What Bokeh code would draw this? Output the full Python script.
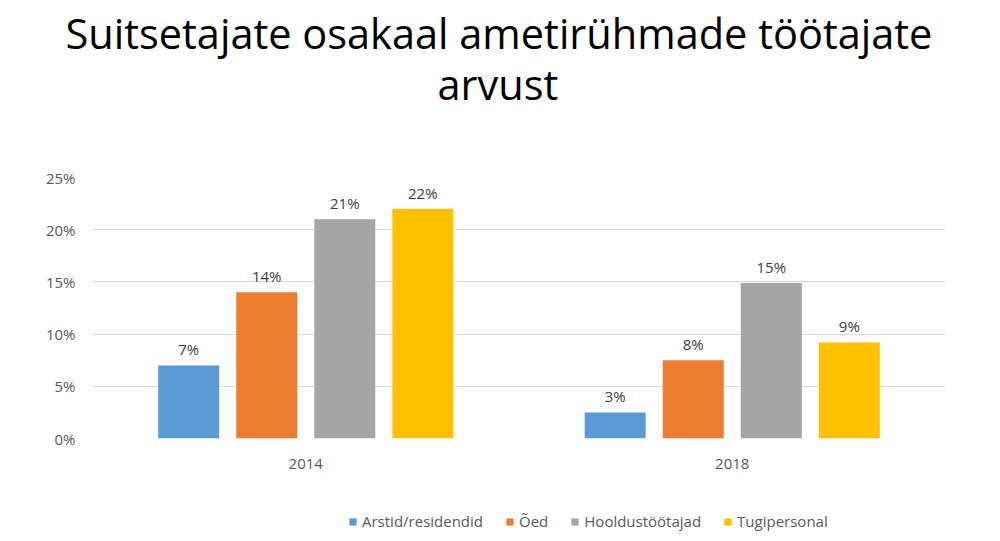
from bokeh.plotting import figure
from bokeh.models import (ColumnDataSource, Range1d, FixedTicker, NumeralTickFormatter,
                          Legend, LegendItem, LabelSet, Title)
from bokeh.layouts import column
from bokeh.core.properties import value
from bokeh.embed import file_html
from bokeh.resources import INLINE
import math

years = ["2014", "2018"]
series = ["Arstid/residendid", "Õed", "Hooldustöötajad", "Tugipersonal"]
colors = ["#5B9BD5", "#ED7D31", "#A5A5A5", "#FFC000"]
values = {
    "Arstid/residendid": [7.0, 2.5],
    "Õed": [14.0, 7.5],
    "Hooldustöötajad": [21.0, 14.9],
    "Tugipersonal": [22.0, 9.2],
}
y_ticks = [0, 5, 10, 15, 20, 25]
title_lines = ["Suitsetajate osakaal ametirühmade töötajate", "arvust"]

FONT = "Open Sans"
p = figure(title=None, output_backend="svg", toolbar_location=None,
           width=1000, height=502,
           x_range=Range1d(0, 2), y_range=Range1d(0, 0.25),
           min_border_left=92, min_border_right=55, min_border_bottom=64, min_border_top=0)
p.outline_line_color = None
p.background_fill_color = "white"
p.border_fill_color = "white"

# separate strip below the chart that holds the legend
p2 = figure(title=None, output_backend="svg", toolbar_location=None,
            width=1000, height=39, x_range=Range1d(0, 2), y_range=Range1d(1, 2),
            min_border=0, x_axis_location=None, y_axis_location=None)
p2.outline_line_color = None
p2.grid.visible = False
p2.background_fill_color = "white"
p2.border_fill_color = "white"

slot = 0.183
bw = 0.143
centers = [0.5, 1.5]
items = []
for i, s in enumerate(series):
    off = (i - 1.5) * slot
    xs = [c + off for c in centers]
    ys = [v / 100 for v in values[s]]
    labels = [f"{int(math.floor(v + 0.5))}%" for v in values[s]]
    src = ColumnDataSource(dict(x=xs, top=ys, label=labels))
    p.vbar(x="x", top="top", width=bw, bottom=0, source=src,
           fill_color=colors[i], line_color=None)
    # same bars in the legend strip (outside its visible range) for the legend swatches
    r2 = p2.vbar(x="x", top="top", width=bw, bottom=0, source=src,
                 fill_color=colors[i], line_color=None)
    items.append(LegendItem(label=s, renderers=[r2]))
    p.add_layout(LabelSet(x="x", y="top", text="label", source=src,
                          text_align="center", text_baseline="bottom", y_offset=6,
                          text_font=value(FONT), text_font_size=value("15px"),
                          text_color="#404040"))

# axes
p.yaxis.ticker = FixedTicker(ticks=[t / 100 for t in y_ticks])
p.yaxis.formatter = NumeralTickFormatter(format="0%")
p.yaxis.axis_line_color = None
p.yaxis.major_tick_line_color = None
p.yaxis.minor_tick_line_color = None
p.yaxis.major_label_text_font = FONT
p.yaxis.major_label_text_font_size = "15px"
p.yaxis.major_label_text_color = "#595959"
p.yaxis.major_label_standoff = 11

p.xaxis.ticker = FixedTicker(ticks=centers)
p.xaxis.major_label_overrides = {centers[0]: years[0], centers[1]: years[1]}
p.xaxis.axis_line_color = None
p.xaxis.major_tick_line_color = None
p.xaxis.minor_tick_line_color = None
p.xaxis.major_label_text_font = FONT
p.xaxis.major_label_text_font_size = "15px"
p.xaxis.major_label_text_color = "#595959"
p.xaxis.major_label_standoff = 14

p.xgrid.grid_line_color = None
p.ygrid.grid_line_color = "#D9D9D9"
p.ygrid.grid_line_width = 1

legend = Legend(items=items, orientation="horizontal", location=(256, 10),
                label_text_font=FONT, label_text_font_size="15px",
                label_text_color="#595959", glyph_width=9, glyph_height=9,
                spacing=22, label_standoff=5, border_line_color=None,
                background_fill_alpha=0, margin=0, padding=0)
p2.add_layout(legend)

# title: spacer nearest the plot, then second line, then first line
p.add_layout(Title(text=" ", text_font=FONT, text_font_size="10px", standoff=60), "above")
p.add_layout(Title(text=title_lines[1], text_font=FONT, text_font_size="41.5px",
                   text_font_style="normal", align="left", text_color="#000000",
                   standoff=-20, offset=345), "above")
p.add_layout(Title(text=title_lines[0], text_font=FONT, text_font_size="41.5px",
                   text_font_style="normal", align="left", text_color="#000000",
                   standoff=5, offset=-27), "above")

layout = column(p, p2, spacing=0)
open("out.html", "w").write(file_html(layout, INLINE))
